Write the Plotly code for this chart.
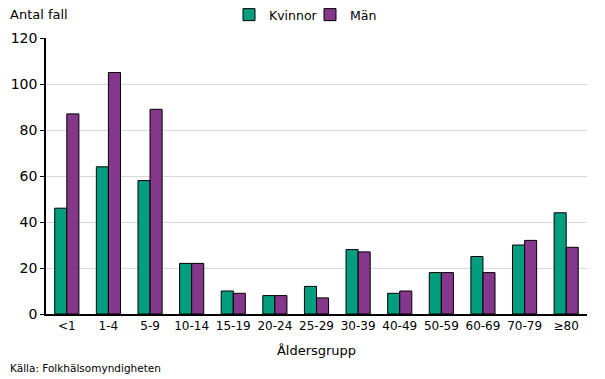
import plotly.graph_objects as go

categories = ["<1", "1-4", "5-9", "10-14", "15-19", "20-24", "25-29", "30-39", "40-49", "50-59", "60-69", "70-79", "≥80"]
kvinnor = [46, 64, 58, 22, 10, 8, 12, 28, 9, 18, 25, 30, 44]
man = [87, 105, 89, 22, 9, 8, 7, 27, 10, 18, 18, 32, 29]
y_ticks = [0, 20, 40, 60, 80, 100, 120]

FONT = "DejaVu Sans"
L, R, T, B = 46, 18, 38, 65
W, H = 605, 379
pw, ph = W - L - R, H - T - B


def py(pix):
    return (H - B - pix) / ph


def px(pix):
    return (pix - L) / pw


fig = go.Figure()
fig.add_trace(go.Bar(x=categories, y=kvinnor, name="Kvinnor",
                     marker=dict(color="#009E7E", line=dict(color="#000000", width=1))))
fig.add_trace(go.Bar(x=categories, y=man, name="Män",
                     marker=dict(color="#84378B", line=dict(color="#000000", width=1))))

fig.update_layout(
    width=W, height=H,
    margin=dict(l=L, r=R, t=T, b=B, autoexpand=False),
    plot_bgcolor="white", paper_bgcolor="white",
    barmode="group", bargap=0.42, bargroupgap=0,
    font=dict(family=FONT, size=11, color="#000000"),
    legend=dict(orientation="h", x=px(229), xanchor="left", y=py(15), yanchor="middle",
                font=dict(family=FONT, size=12.5), itemwidth=30, traceorder="normal",
                entrywidth=36, entrywidthmode="pixels",
                bgcolor="rgba(0,0,0,0)", tracegroupgap=0),
    xaxis=dict(showline=True, linecolor="#000000", linewidth=1.5, ticks="", showgrid=False,
               tickfont=dict(size=12), title=dict(text="Åldersgrupp", font=dict(size=13), standoff=14)),
    yaxis=dict(range=[0, 120], tickvals=y_ticks, showline=True, linecolor="#000000", linewidth=1.5,
               ticks="outside", ticklen=4, tickcolor="#000000", showgrid=True, gridcolor="#d9d9d9",
               gridwidth=1, zeroline=False, tickfont=dict(size=14)),
    annotations=[
        dict(text="Antal fall", xref="paper", yref="paper", x=px(8), y=py(14),
             xanchor="left", yanchor="middle", showarrow=False, font=dict(size=13)),
        dict(text="Källa: Folkhälsomyndigheten", xref="paper", yref="paper", x=px(8),
             y=py(368), xanchor="left", yanchor="middle", showarrow=False,
             font=dict(size=10.5)),
    ],
)

fig.write_html("out.html", config={"displayModeBar": False},
               post_script="document.body.style.margin='0';")
